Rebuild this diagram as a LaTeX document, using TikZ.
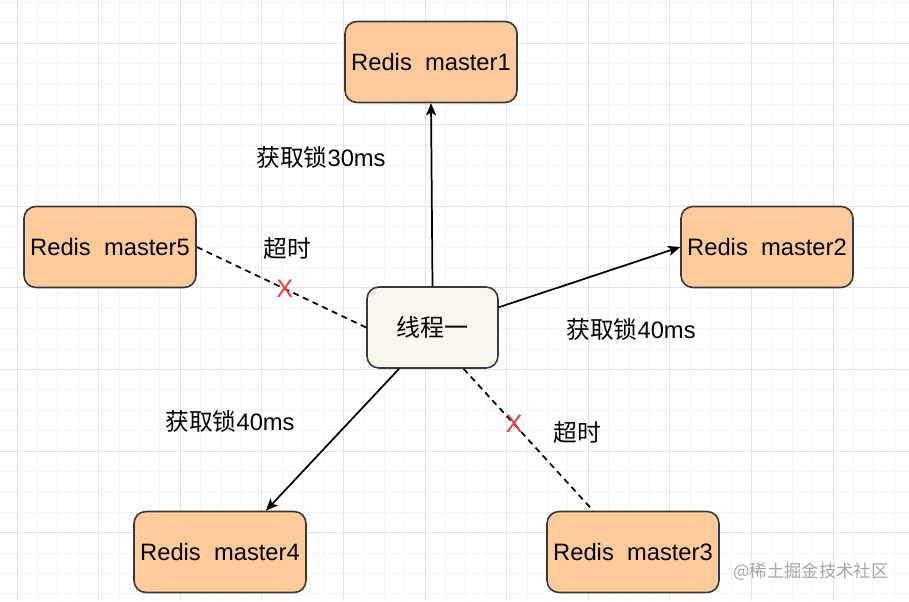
\documentclass[tikz,border=0pt]{standalone}
\usepackage{fontspec}
\setmainfont{Liberation Sans}
\newfontfamily\cjk{Noto Sans CJK SC}
\usetikzlibrary{arrows.meta}
\definecolor{redisfill}{HTML}{FFCC99}
\definecolor{threadfill}{HTML}{F9F7ED}
\definecolor{boxline}{HTML}{36393D}
\definecolor{crossred}{HTML}{EE3E3E}
\definecolor{gridmajor}{HTML}{E2E2E2}
\definecolor{gridminor}{HTML}{F5F5F5}
\begin{document}
\begin{tikzpicture}[x=0.75pt,y=-0.75pt]

%styles
\tikzstyle{redisbox}  = [draw=boxline, line width=1.2pt, rectangle, rounded corners=9pt, fill=redisfill, minimum width=129pt, minimum height=60.75pt, inner sep=0pt, font=\fontsize{17.8}{20}\selectfont]
\tikzstyle{threadbox} = [draw=boxline, line width=1.2pt, rectangle, rounded corners=9pt, fill=threadfill, minimum width=98.25pt, minimum height=60.75pt, inner sep=0pt, font=\fontsize{18}{20}\selectfont\cjk]
\tikzstyle{lbl}       = [font=\fontsize{17.8}{20}\selectfont, inner sep=0pt]
\tikzstyle{cross}     = [text=crossred, font=\fontsize{19}{20}\selectfont, inner sep=0pt]
\tikzstyle{getlock}   = [-{Stealth[length=9pt, width=7.5pt, inset=2pt]}, line width=1.3pt, black]
\tikzstyle{timeout}   = [line width=1.3pt, black, dash pattern=on 4.5pt off 3.5pt]

%background and grid
\useasboundingbox (0,0) rectangle (909,601);
\fill[white] (0,0) rectangle (909,601);
\foreach \i in {0,...,45} \draw[gridminor, line width=0.6pt] ({-3.4+\i*20.4},0) -- ({-3.4+\i*20.4},601);
\foreach \i in {0,...,29} \draw[gridminor, line width=0.6pt] (0,{2.2+\i*20.4}) -- (909,{2.2+\i*20.4});
\foreach \j in {0,...,10} \draw[gridmajor, line width=0.7pt] ({17+\j*81.6},0) -- ({17+\j*81.6},601);
\foreach \j in {0,...,6} \draw[gridmajor, line width=0.7pt] (0,{43+\j*81.6}) -- (909,{43+\j*81.6});

%nodes
\node (thread)  [threadbox] at (432.5,327.5) {线程一};
\node (master1) [redisbox]  at (431,62)  {Redis\ \ master1};
\node (master2) [redisbox]  at (767,247) {Redis\ \ master2};
\node (master3) [redisbox]  at (633,552) {Redis\ \ master3};
\node (master4) [redisbox]  at (220,552) {Redis\ \ master4};
\node (master5) [redisbox]  at (110,247) {Redis\ \ master5};

%connectors
\draw[getlock] (thread.north) -- (master1.south);
\draw[getlock] (thread.17) -- (master2.west);
\draw[getlock] (thread.231) -- (master4.42);
\draw[timeout] (thread.west) -- node[cross, pos=0.48] {X} (master5.east);
\draw[timeout] (thread.307) -- node[cross, pos=0.39] {X} (master3.134);

%labels
\node (lock1) [lbl] at (321,157) {{\cjk 获取锁}30ms};
\node (lock2) [lbl] at (631,329) {{\cjk 获取锁}40ms};
\node (lock4) [lbl] at (230,421) {{\cjk 获取锁}40ms};
\node (out5)  [lbl] at (287,248) {\cjk 超时};
\node (out3)  [lbl] at (577,432) {\cjk 超时};
\node (mark)  [text=gray!70, font=\fontsize{13}{15}\selectfont\cjk, inner sep=0pt] at (811,572) {@稀土掘金技术社区};

\end{tikzpicture}
\end{document}
